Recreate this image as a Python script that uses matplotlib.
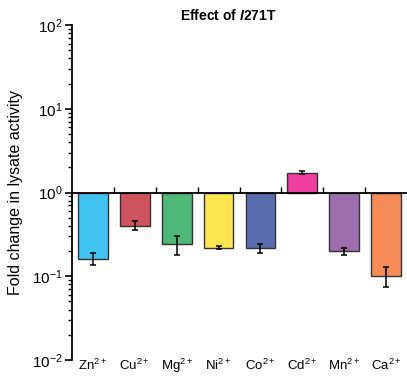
import matplotlib
matplotlib.use('Agg')
import matplotlib.pyplot as plt
import numpy as np
from matplotlib.ticker import LogLocator, FixedLocator, NullFormatter, LogFormatterSciNotation

plt.rcParams['font.family'] = ['Liberation Sans', 'DejaVu Sans']
plt.rcParams['mathtext.fontset'] = 'custom'
plt.rcParams['mathtext.rm'] = 'Liberation Sans'
plt.rcParams['mathtext.it'] = 'Liberation Sans:italic:bold'
plt.rcParams['mathtext.bf'] = 'Liberation Sans:bold'

ions = ['Zn', 'Cu', 'Mg', 'Ni', 'Co', 'Cd', 'Mn', 'Ca']
fold = [0.16, 0.40, 0.24, 0.217, 0.22, 1.73, 0.20, 0.10]
err_low = [0.135, 0.353, 0.178, 0.21, 0.19, 1.68, 0.18, 0.075]
err_high = [0.19, 0.455, 0.30, 0.23, 0.245, 1.80, 0.22, 0.128]
colors = ['#41C3F1', '#CF5460', '#4DB878', '#FEE44F', '#5A6EAF', '#EE3E9F', '#9E6DAE', '#F68B57']

fig = plt.figure(figsize=(4.07, 3.77), dpi=100)
ax = fig.add_axes([72/407, 1-360/377, 1-72/407, (360-25)/377])

x = np.arange(len(ions))
fold_a = np.array(fold)
heights = fold_a - 1
ax.bar(x, heights, bottom=1, width=0.71, color=colors, edgecolor='#333333', linewidth=1.0, zorder=2)
yerr = [fold_a - np.array(err_low), np.array(err_high) - fold_a]
ax.errorbar(x, fold_a, yerr=yerr, fmt='none', ecolor='black', elinewidth=1.1, capsize=2.5, capthick=1.1, zorder=3)

ax.set_yscale('log')
ax.set_ylim(1e-2, 1e2)
ax.set_xlim(-0.5, 7.5)

for s in ['top', 'right']:
    ax.spines[s].set_visible(False)
ax.spines['left'].set_linewidth(1.3)
ax.spines['bottom'].set_position(('data', 1))
ax.spines['bottom'].set_linewidth(1.3)
ax.spines['bottom'].set_zorder(4)

ax.yaxis.set_major_locator(LogLocator(base=10, numticks=10))
ax.yaxis.set_minor_locator(LogLocator(base=10, subs=np.arange(2, 10), numticks=20))
ax.yaxis.set_minor_formatter(NullFormatter())
ax.yaxis.set_major_formatter(LogFormatterSciNotation())
ax.tick_params(axis='y', which='major', direction='out', length=5, width=1.2, labelsize=11, pad=2, colors='black')
ax.tick_params(axis='y', which='minor', direction='out', length=3, width=1.0)

ax.xaxis.set_major_locator(FixedLocator(np.arange(0.5, 7, 1.0)))
ax.xaxis.set_major_formatter(NullFormatter())
ax.xaxis.set_minor_locator(FixedLocator([]))
ax.tick_params(axis='x', which='major', direction='in', length=4, width=1.0)

for xi, ion in zip(x, ions):
    ax.text(xi, -0.017, ion + r'$^{\mathrm{2+}}$', transform=ax.get_xaxis_transform(),
            ha='center', va='center', fontsize=9.5)

ax.set_ylabel('Fold change in lysate activity', fontsize=11.5)
ax.yaxis.set_label_coords(-0.145, 0.5)

fig.text(228/407, 1-16/377, r'Effect of $\mathit{I}$271T', ha='center', va='center',
         fontsize=10, fontweight='bold')

fig.savefig('out.png', dpi=100)
